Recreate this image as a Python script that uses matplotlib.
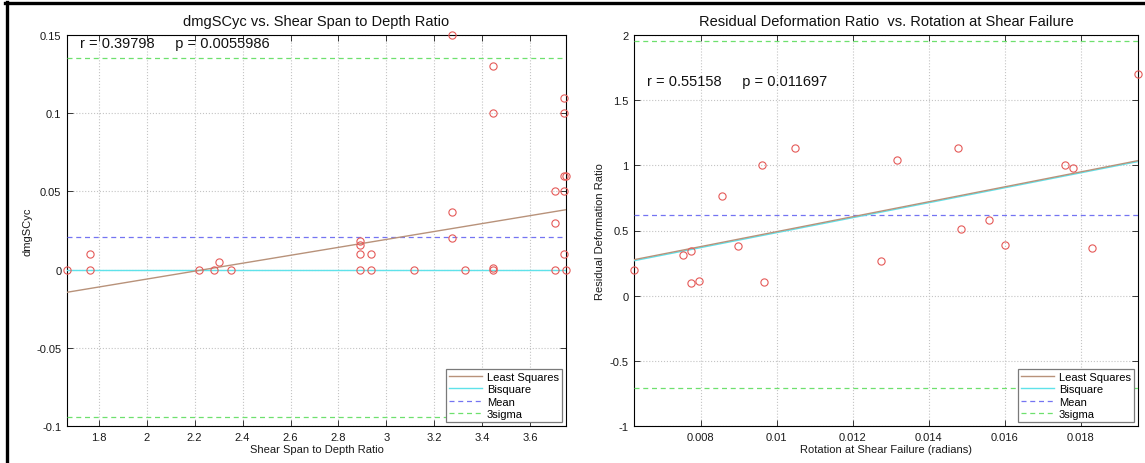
import matplotlib
matplotlib.use("Agg")
import matplotlib.pyplot as plt
from matplotlib.ticker import FuncFormatter, MultipleLocator
from matplotlib.lines import Line2D
import numpy as np

plt.rcParams['font.family'] = ['Liberation Sans', 'DejaVu Sans']

# ---- left panel data: dmgSCyc vs shear span to depth ratio ----
span_ratio = [3.273, 3.446, 3.446, 3.741, 3.740, 3.740, 3.750, 3.705, 3.740, 3.273, 3.705,
              1.667, 1.763, 1.763, 2.220, 2.282, 2.302, 2.350, 2.890, 2.890, 2.890, 2.890,
              2.936, 2.936, 3.116, 3.273, 3.330, 3.446, 3.446, 3.705, 3.740, 3.750]
dmg_scyc = [0.150, 0.130, 0.100, 0.110, 0.100, 0.060, 0.060, 0.050, 0.050, 0.037, 0.030,
            0.000, 0.010, 0.000, 0.000, 0.000, 0.005, 0.000, 0.018, 0.0155, 0.010, 0.000,
            0.010, 0.000, 0.000, 0.020, 0.000, 0.0008, 0.000, 0.000, 0.010, 0.000]
left_ls_ends = [-0.0145, 0.0383]      # least squares fit at the x limits
left_bisq_ends = [0.0, 0.0]           # bisquare fit at the x limits
left_mean = 0.021
left_3sigma = [0.1355, -0.094]
left_stats = "r = 0.39798     p = 0.0055986"

# ---- right panel data: residual deformation ratio vs rotation ----
rotation = [0.01951, 0.01049, 0.00960, 0.00855, 0.01317, 0.01478, 0.01760, 0.01780,
            0.01485, 0.01560, 0.00624, 0.00753, 0.00774, 0.00773, 0.00796, 0.00899,
            0.00967, 0.01275, 0.01600, 0.01830]
resid_ratio = [1.700, 1.136, 1.000, 0.764, 1.040, 1.130, 1.000, 0.980,
               0.515, 0.577, 0.200, 0.312, 0.345, 0.099, 0.114, 0.380,
               0.104, 0.266, 0.388, 0.363]
right_ls_ends = [0.276, 1.036]
right_bisq_ends = [0.268, 1.029]
right_mean = 0.62
right_3sigma = [1.955, -0.708]
right_stats = "r = 0.55158     p = 0.011697"

C_LS = '#b8927a'
C_BISQ = '#5fe2ea'
C_MEAN = '#7474f2'
C_SIG = '#6ee06e'
C_PT = '#e55a58'

W, H = 1145, 464
fig = plt.figure(figsize=(W / 100, H / 100), dpi=100)

fmt = FuncFormatter(lambda v, p: ('%g' % round(v, 6)))


def panel(rect, x, y, ls_ends, bisq_ends, mean, sig, stats, stats_pos,
          title, xlabel, ylabel, ylim, xstep, ystep):
    ax = fig.add_axes(rect)
    xlim = [min(x), max(x)]
    ax.plot(xlim, ls_ends, color=C_LS, lw=1.0, label='Least Squares', zorder=3.2)
    ax.plot(xlim, bisq_ends, color=C_BISQ, lw=1.0, label='Bisquare', zorder=3.1)
    ax.plot(xlim, [mean, mean], color=C_MEAN, lw=0.9, ls=(0, (4, 3)), label='Mean', zorder=3)
    ax.plot(xlim, [sig[0], sig[0]], color=C_SIG, lw=0.9, ls=(0, (4, 3)), label='3sigma', zorder=3)
    ax.plot(xlim, [sig[1], sig[1]], color=C_SIG, lw=0.9, ls=(0, (4, 3)), zorder=3)
    ax.plot(x, y, ls='none', marker='o', ms=5.2, mfc='none', mec=C_PT, mew=0.8,
            clip_on=False, zorder=4)
    ax.set_xlim(xlim)
    ax.set_ylim(ylim)
    ax.xaxis.set_major_locator(MultipleLocator(xstep))
    ax.yaxis.set_major_locator(MultipleLocator(ystep))
    ax.xaxis.set_major_formatter(fmt)
    ax.yaxis.set_major_formatter(fmt)
    ax.grid(True, color='#c4c4c4', ls=':', lw=0.8)
    ax.set_axisbelow(True)
    ax.tick_params(direction='in', length=4, width=0.6, labelsize=8, colors='#1a1a1a',
                   top=True, right=True, pad=4)
    for s in ax.spines.values():
        s.set_linewidth(0.8)
        s.set_color('black')
    ax.set_title(title, fontsize=10.5, pad=7, color='#111111')
    ax.set_xlabel(xlabel, fontsize=8, labelpad=2, color='#1a1a1a')
    ax.set_ylabel(ylabel, fontsize=8, labelpad=3, color='#1a1a1a')
    ax.text(stats_pos[0], stats_pos[1], stats, transform=ax.transAxes,
            fontsize=10.5, va='center', ha='left', color='#111111')
    leg = ax.legend(loc='lower right', fontsize=8, handlelength=3.0, handletextpad=0.4,
                    labelspacing=0.2, borderpad=0.3, borderaxespad=0.35,
                    fancybox=False, framealpha=1, edgecolor='#7a7a7a')
    leg.get_frame().set_linewidth(0.9)
    return ax


panel([67 / W, 1 - 427 / H, 499 / W, 391 / H], span_ratio, dmg_scyc,
      left_ls_ends, left_bisq_ends, left_mean, left_3sigma, left_stats, (0.026, 0.98),
      'dmgSCyc vs. Shear Span to Depth Ratio', 'Shear Span to Depth Ratio', 'dmgSCyc',
      (-0.1, 0.15), 0.2, 0.05)

panel([634 / W, 1 - 427 / H, 504 / W, 391 / H], rotation, resid_ratio,
      right_ls_ends, right_bisq_ends, right_mean, right_3sigma, right_stats, (0.026, 0.882),
      'Residual Deformation Ratio  vs. Rotation at Shear Failure',
      'Rotation at Shear Failure (radians)', 'Residual Deformation Ratio',
      (-1, 2), 0.002, 0.5)

# frame lines along the top and left edges
fig.add_artist(Line2D([5 / W, 1], [1 - 3.5 / H, 1 - 3.5 / H], color='black', lw=2.4,
                      transform=fig.transFigure))
fig.add_artist(Line2D([6.5 / W, 6.5 / W], [0, 1 - 2.5 / H], color='black', lw=2.4,
                      transform=fig.transFigure))

fig.savefig('out.png', dpi=100, facecolor='white')
